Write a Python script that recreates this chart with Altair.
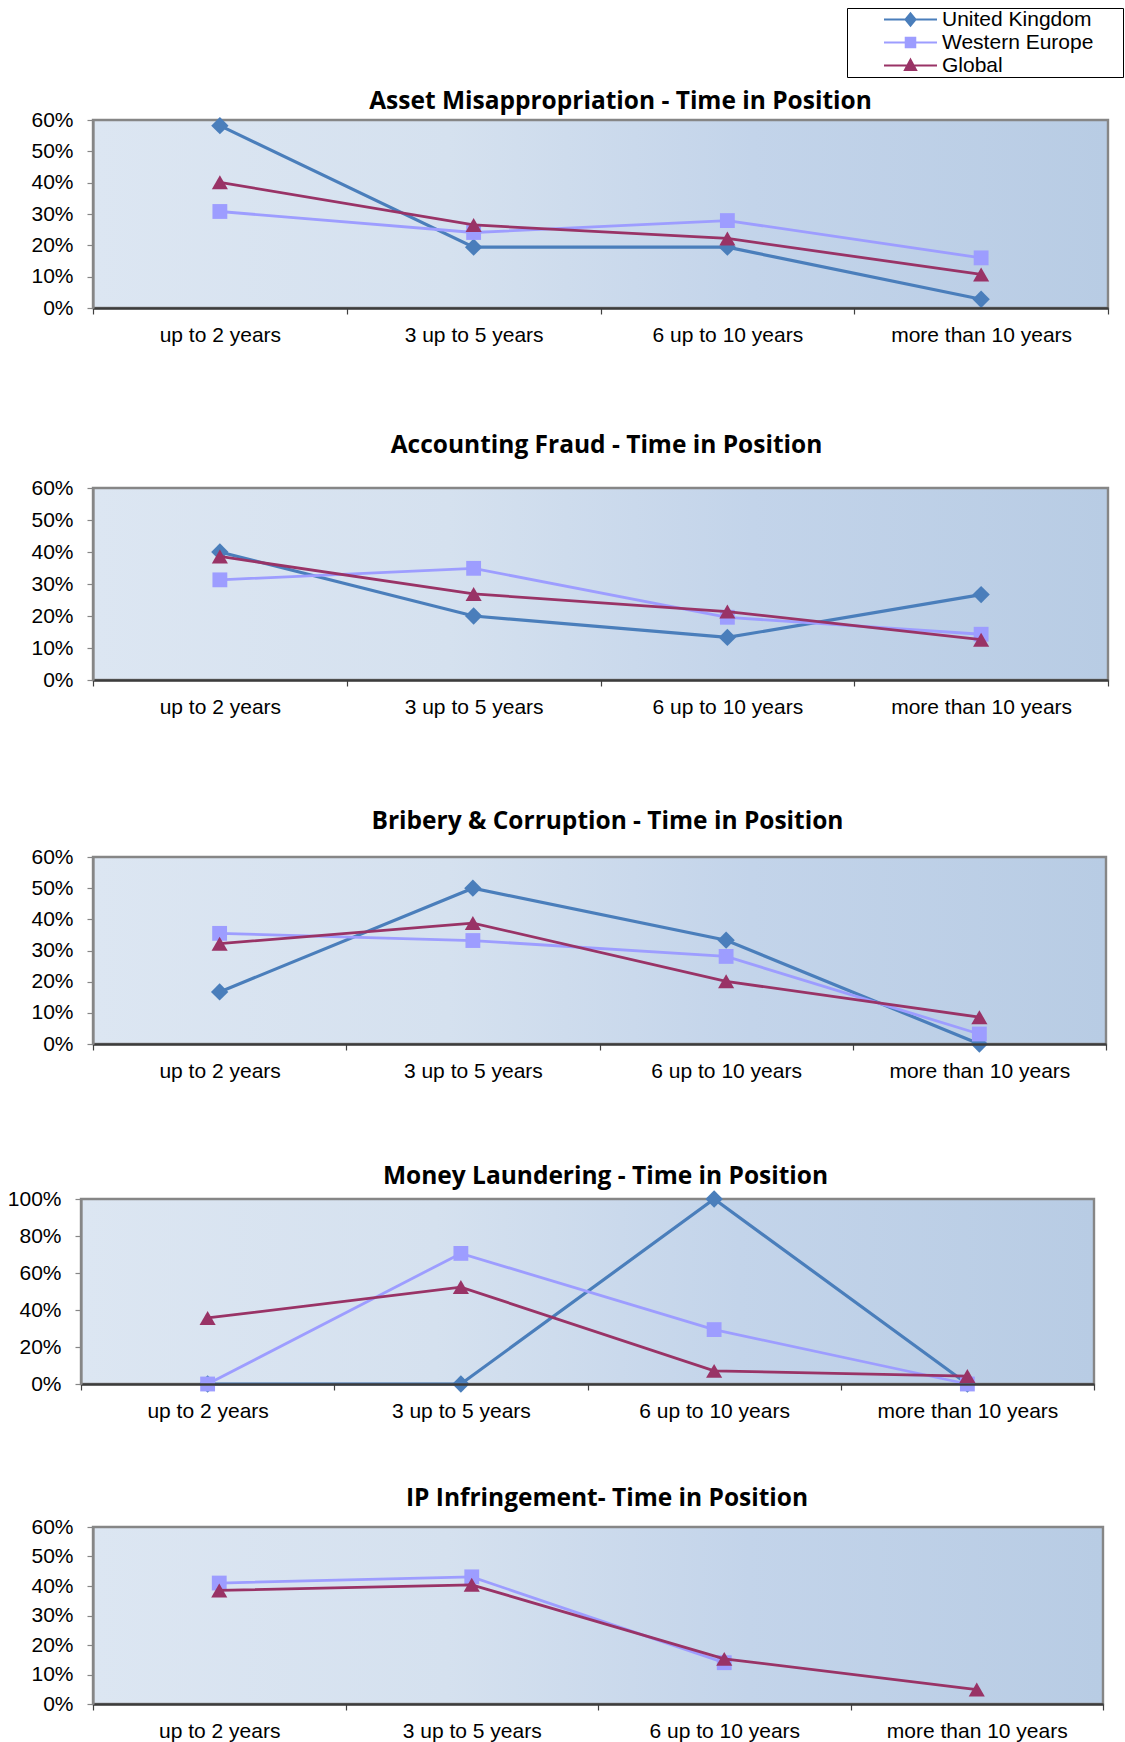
import altair as alt
import pandas as pd

# Categories and series shared by every panel
categories = ["up to 2 years", "3 up to 5 years", "6 up to 10 years", "more than 10 years"]
series = ["United Kingdom", "Western Europe", "Global"]

# Series styling
colors = ["#4a7ebb", "#9d9dff", "#993366"]
shapes = ["diamond", "square", "triangle-up"]
marker_sizes = [300, 220, 260]
line_widths = [3.2, 2.8, 2.8]
# Legend symbols: a short line with the series marker on it
legend_paths = [
    "M-1,0H1M0,-0.23L0.19,0L0,0.23L-0.19,0Z",
    "M-1,0H1M-0.18,-0.18H0.18V0.18H-0.18Z",
    "M-1,0H1M0,-0.22L0.21,0.17H-0.21Z",
]

# Panel titles
titles = [
    "Asset Misappropriation - Time in Position",
    "Accounting Fraud - Time in Position",
    "Bribery & Corruption - Time in Position",
    "Money Laundering - Time in Position",
    "IP Infringement- Time in Position",
]

# Shares by time in position (fractions)
asset_uk = [0.582, 0.194, 0.194, 0.028]
asset_we = [0.308, 0.241, 0.279, 0.160]
asset_global = [0.401, 0.265, 0.222, 0.107]

fraud_uk = [0.400, 0.200, 0.133, 0.267]
fraud_we = [0.313, 0.349, 0.196, 0.143]
fraud_global = [0.386, 0.269, 0.214, 0.126]

bribery_uk = [0.167, 0.500, 0.333, 0.000]
bribery_we = [0.355, 0.332, 0.281, 0.032]
bribery_global = [0.322, 0.388, 0.201, 0.086]

laundering_uk = [0.000, 0.000, 1.000, 0.000]
laundering_we = [0.000, 0.706, 0.294, 0.000]
laundering_global = [0.357, 0.524, 0.071, 0.043]

ip_uk = [None, None, None, None]
ip_we = [0.410, 0.431, 0.140, None]
ip_global = [0.385, 0.404, 0.153, 0.049]

ticks_60 = [0, 0.1, 0.2, 0.3, 0.4, 0.5, 0.6]
ticks_100 = [0, 0.2, 0.4, 0.6, 0.8, 1.0]

plot_fill = {
    "gradient": "linear",
    "x1": 0, "y1": 0, "x2": 1, "y2": 0,
    "stops": [
        {"offset": 0.0, "color": "#dce6f2"},
        {"offset": 0.35, "color": "#d5e1ef"},
        {"offset": 0.65, "color": "#c3d4ea"},
        {"offset": 1.0, "color": "#b8cce4"},
    ],
}

LABEL_FONT = "Liberation Sans"
# trailing room inside the legend frame (zero-width space keeps it from being trimmed)
LEGEND_TAIL = "\u00a0" * 5 + "\u200b"


def panel(title, values, ymax, yticks, width, height, x_extent,
          title_offset, title_dx, shift=0, with_legend=False):
    # shift moves the plot frame left of the group origin by that many pixels
    x_enc = alt.X(
        "category:N",
        sort=categories,
        bandPosition=0.5,
        scale=alt.Scale(type="band", domain=categories, paddingInner=0,
                        paddingOuter=0, range=[-shift, width - shift]),
        axis=alt.Axis(
            title=None, labelAngle=0, labelFont=LABEL_FONT, labelFontSize=21,
            labelColor="black", labelPadding=10, labelLimit=300, tickSize=6,
            tickBand="extent", tickColor="#404040", tickWidth=1.2,
            domainColor="#3c3c3c", domainWidth=2.6, grid=False, zindex=1,
            minExtent=x_extent, maxExtent=x_extent,
        ),
    )
    y_enc = alt.Y(
        "value:Q",
        scale=alt.Scale(domain=[0, ymax], nice=False, zero=True),
        axis=alt.Axis(
            title=None, values=yticks, format=".0%", labelFont=LABEL_FONT,
            labelFontSize=21, labelColor="black", labelPadding=14, tickSize=6,
            tickColor="#868686", tickWidth=1.2, domainColor="#868686", domainWidth=2.2,
            grid=False, zindex=1, offset=shift,
            minExtent=93 - shift, maxExtent=93 - shift,
        ),
    )

    background = alt.Chart(alt.Data(values=[{}])).mark_rect(
        fill=plot_fill, stroke="#868686", strokeWidth=2.4
    ).encode(
        x=alt.value(-shift), x2=alt.value(width - shift),
        y=alt.value(0), y2=alt.value("height"),
    )

    layers = [background]
    for name, vals, color, shape, size, lw in zip(
        series, values, colors, shapes, marker_sizes, line_widths
    ):
        df = pd.DataFrame({"category": categories, "series": name, "value": vals})
        base = alt.Chart(df).encode(x=x_enc, y=y_enc)
        layers.append(base.mark_line(color=color, strokeWidth=lw))
        layers.append(base.mark_point(shape=shape, filled=True, color=color, size=size, opacity=1))

    if with_legend:
        legend_df = pd.DataFrame({"series": series})
        legend = alt.Legend(
            title=None, orient="none", legendX=754, legendY=-112, direction="vertical",
            symbolSize=2809, symbolStrokeWidth=2, clipHeight=23, rowPadding=0,
            padding=0, symbolOffset=36, labelOffset=4, labelLimit=400,
            labelFont=LABEL_FONT, labelFontSize=21, labelColor="black",
            strokeColor="black", fillColor="white",
            labelExpr=f"datum.label + '{LEGEND_TAIL}'",
        )
        legend_layer = alt.Chart(legend_df).mark_point(
            filled=True, opacity=1, strokeWidth=2
        ).transform_filter("false").encode(
            fill=alt.Fill("series:N", scale=alt.Scale(domain=series, range=colors), legend=legend),
            stroke=alt.Stroke("series:N", scale=alt.Scale(domain=series, range=colors), legend=legend),
            shape=alt.Shape("series:N", scale=alt.Scale(domain=series, range=legend_paths), legend=legend),
        )
        layers.append(legend_layer)

    return alt.layer(*layers).properties(
        width=width,
        height=height,
        title=alt.TitleParams(
            text=title, font="Open Sans", fontSize=24.5, fontWeight="bold", color="black",
            anchor="middle", offset=title_offset, dx=title_dx,
        ),
    )


p1 = panel(titles[0], [asset_uk, asset_we, asset_global], 0.6, ticks_60,
           1015, 188, 124, -5, 20, with_legend=True)
p2 = panel(titles[1], [fraud_uk, fraud_we, fraud_global], 0.6, ticks_60,
           1015, 192, 128, 19, 6)
p3 = panel(titles[2], [bribery_uk, bribery_we, bribery_global], 0.6, ticks_60,
           1013, 187, 119, 12, 8)
p4 = panel(titles[3], [laundering_uk, laundering_we, laundering_global], 1.0, ticks_100,
           1013, 185, 101, -1, 6, shift=12)
p5 = panel(titles[4], [ip_uk, ip_we, ip_global], 0.6, ticks_60,
           1010, 177, 38, 5, 9)

chart = alt.concat(p1, p2, p3, p4, p5, columns=1, spacing=0, align="none").properties(
    padding={"left": 0, "top": 7, "right": 0, "bottom": 0},
    background="white",
).configure_view(stroke=None)

chart.save("out.html", embed_options={"renderer": "svg", "actions": False})
